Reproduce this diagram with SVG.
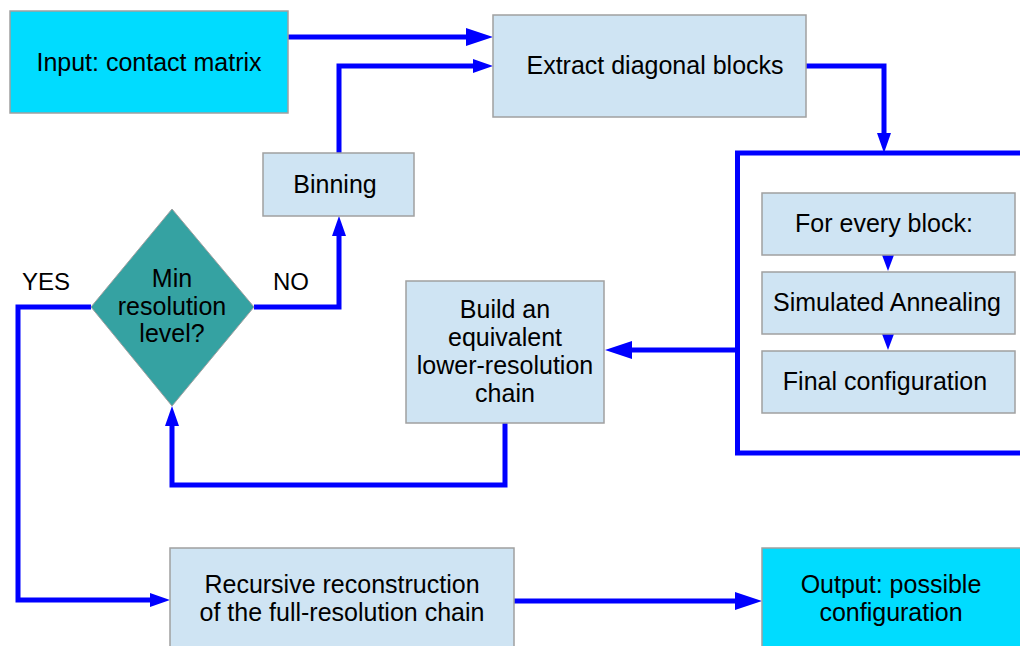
<svg xmlns="http://www.w3.org/2000/svg" width="1020" height="646" viewBox="0 0 1020 646">
  <style>
    .box { fill: #cfe4f3; stroke: #a0a0a0; stroke-width: 1.5; }
    .io { fill: #00dcff; stroke: #a0a0a0; stroke-width: 1.5; }
    .dec { fill: #35a2a2; stroke: #a0a0a0; stroke-width: 1; }
    .lbl { font-family: "Liberation Sans", Arial, sans-serif; font-size: 25px; fill: #000; text-anchor: middle; }
    .side { font-family: "Liberation Sans", Arial, sans-serif; font-size: 24px; fill: #000; }
    .wire { fill: none; stroke: #0000ff; stroke-width: 5; stroke-linejoin: miter; }
    .tip { fill: #0000ff; }
  </style>
  <defs>
    <marker id="bigHead" markerUnits="userSpaceOnUse" markerWidth="27" markerHeight="18" refX="12" refY="9" orient="auto">
      <path d="M0,0 L27,9 L0,18 z" fill="#0000ff"/>
    </marker>
    <marker id="smallHead" markerUnits="userSpaceOnUse" markerWidth="20" markerHeight="14" refX="10" refY="7" orient="auto">
      <path d="M0,0 L20,7 L0,14 z" fill="#0000ff"/>
    </marker>
  </defs>

  <rect width="1020" height="646" fill="#ffffff"/>

  <!-- connectors -->
  <g id="connectors">
    <path class="wire" d="M288,37 H478" marker-end="url(#bigHead)"/>
    <path class="wire" d="M339,153 V66 H483" marker-end="url(#smallHead)"/>
    <path class="wire" d="M806,66 H884 V143" marker-end="url(#smallHead)"/>
    <path class="wire" d="M737,350 H620" marker-end="url(#bigHead)"/>
    <path class="wire" d="M505,423 V485 H172 V416" marker-end="url(#smallHead)"/>
    <path class="wire" d="M254,307 H339 V226" marker-end="url(#smallHead)"/>
    <path class="wire" d="M91,307 H18 V600 H160" marker-end="url(#smallHead)"/>
    <path class="wire" d="M514,601 H747" marker-end="url(#bigHead)"/>
    <!-- short steps inside the per-block loop -->
    <path class="tip" d="M882,255 L894,255 L888,271 z"/>
    <path class="tip" d="M882,334 L894,334 L888,350 z"/>
    <text class="side" x="22" y="290">YES</text>
    <text class="side" x="273" y="290">NO</text>
  </g>

  <!-- per-block loop frame -->
  <g id="block-loop">
    <path class="wire" d="M1024,153 H737.5 V453 H1024"/>
  </g>

  <g id="input">
    <rect class="io" x="10" y="11" width="278" height="102"/>
    <text class="lbl" x="149" y="71">Input: contact matrix</text>
  </g>

  <g id="extract">
    <rect class="box" x="493" y="15" width="313" height="102"/>
    <text class="lbl" x="655" y="74">Extract diagonal blocks</text>
  </g>

  <g id="binning">
    <rect class="box" x="263" y="153" width="151" height="63"/>
    <text class="lbl" x="335" y="193">Binning</text>
  </g>

  <g id="min-resolution">
    <path class="dec" d="M172,209 L254,307 L172,406 L91,307 z"/>
    <text class="lbl" x="172" y="287">Min</text>
    <text class="lbl" x="172" y="315">resolution</text>
    <text class="lbl" x="172" y="342">level?</text>
  </g>

  <g id="build-chain">
    <rect class="box" x="406" y="281" width="198" height="142"/>
    <text class="lbl" x="505" y="318">Build an</text>
    <text class="lbl" x="505" y="346">equivalent</text>
    <text class="lbl" x="505" y="374">lower-resolution</text>
    <text class="lbl" x="505" y="402">chain</text>
  </g>

  <g id="for-every-block">
    <rect class="box" x="762" y="193" width="253" height="62"/>
    <text class="lbl" x="884" y="232">For every block:</text>
  </g>

  <g id="simulated-annealing">
    <rect class="box" x="762" y="272" width="253" height="62"/>
    <text class="lbl" x="887" y="311">Simulated Annealing</text>
  </g>

  <g id="final-configuration">
    <rect class="box" x="762" y="351" width="253" height="62"/>
    <text class="lbl" x="885" y="390">Final configuration</text>
  </g>

  <g id="recursive-reconstruction">
    <rect class="box" x="170" y="548" width="344" height="110"/>
    <text class="lbl" x="342" y="593">Recursive reconstruction</text>
    <text class="lbl" x="342" y="621">of the full-resolution chain</text>
  </g>

  <g id="output">
    <rect class="io" x="762" y="548" width="270" height="110"/>
    <text class="lbl" x="891" y="593">Output: possible</text>
    <text class="lbl" x="891" y="621">configuration</text>
  </g>
</svg>
